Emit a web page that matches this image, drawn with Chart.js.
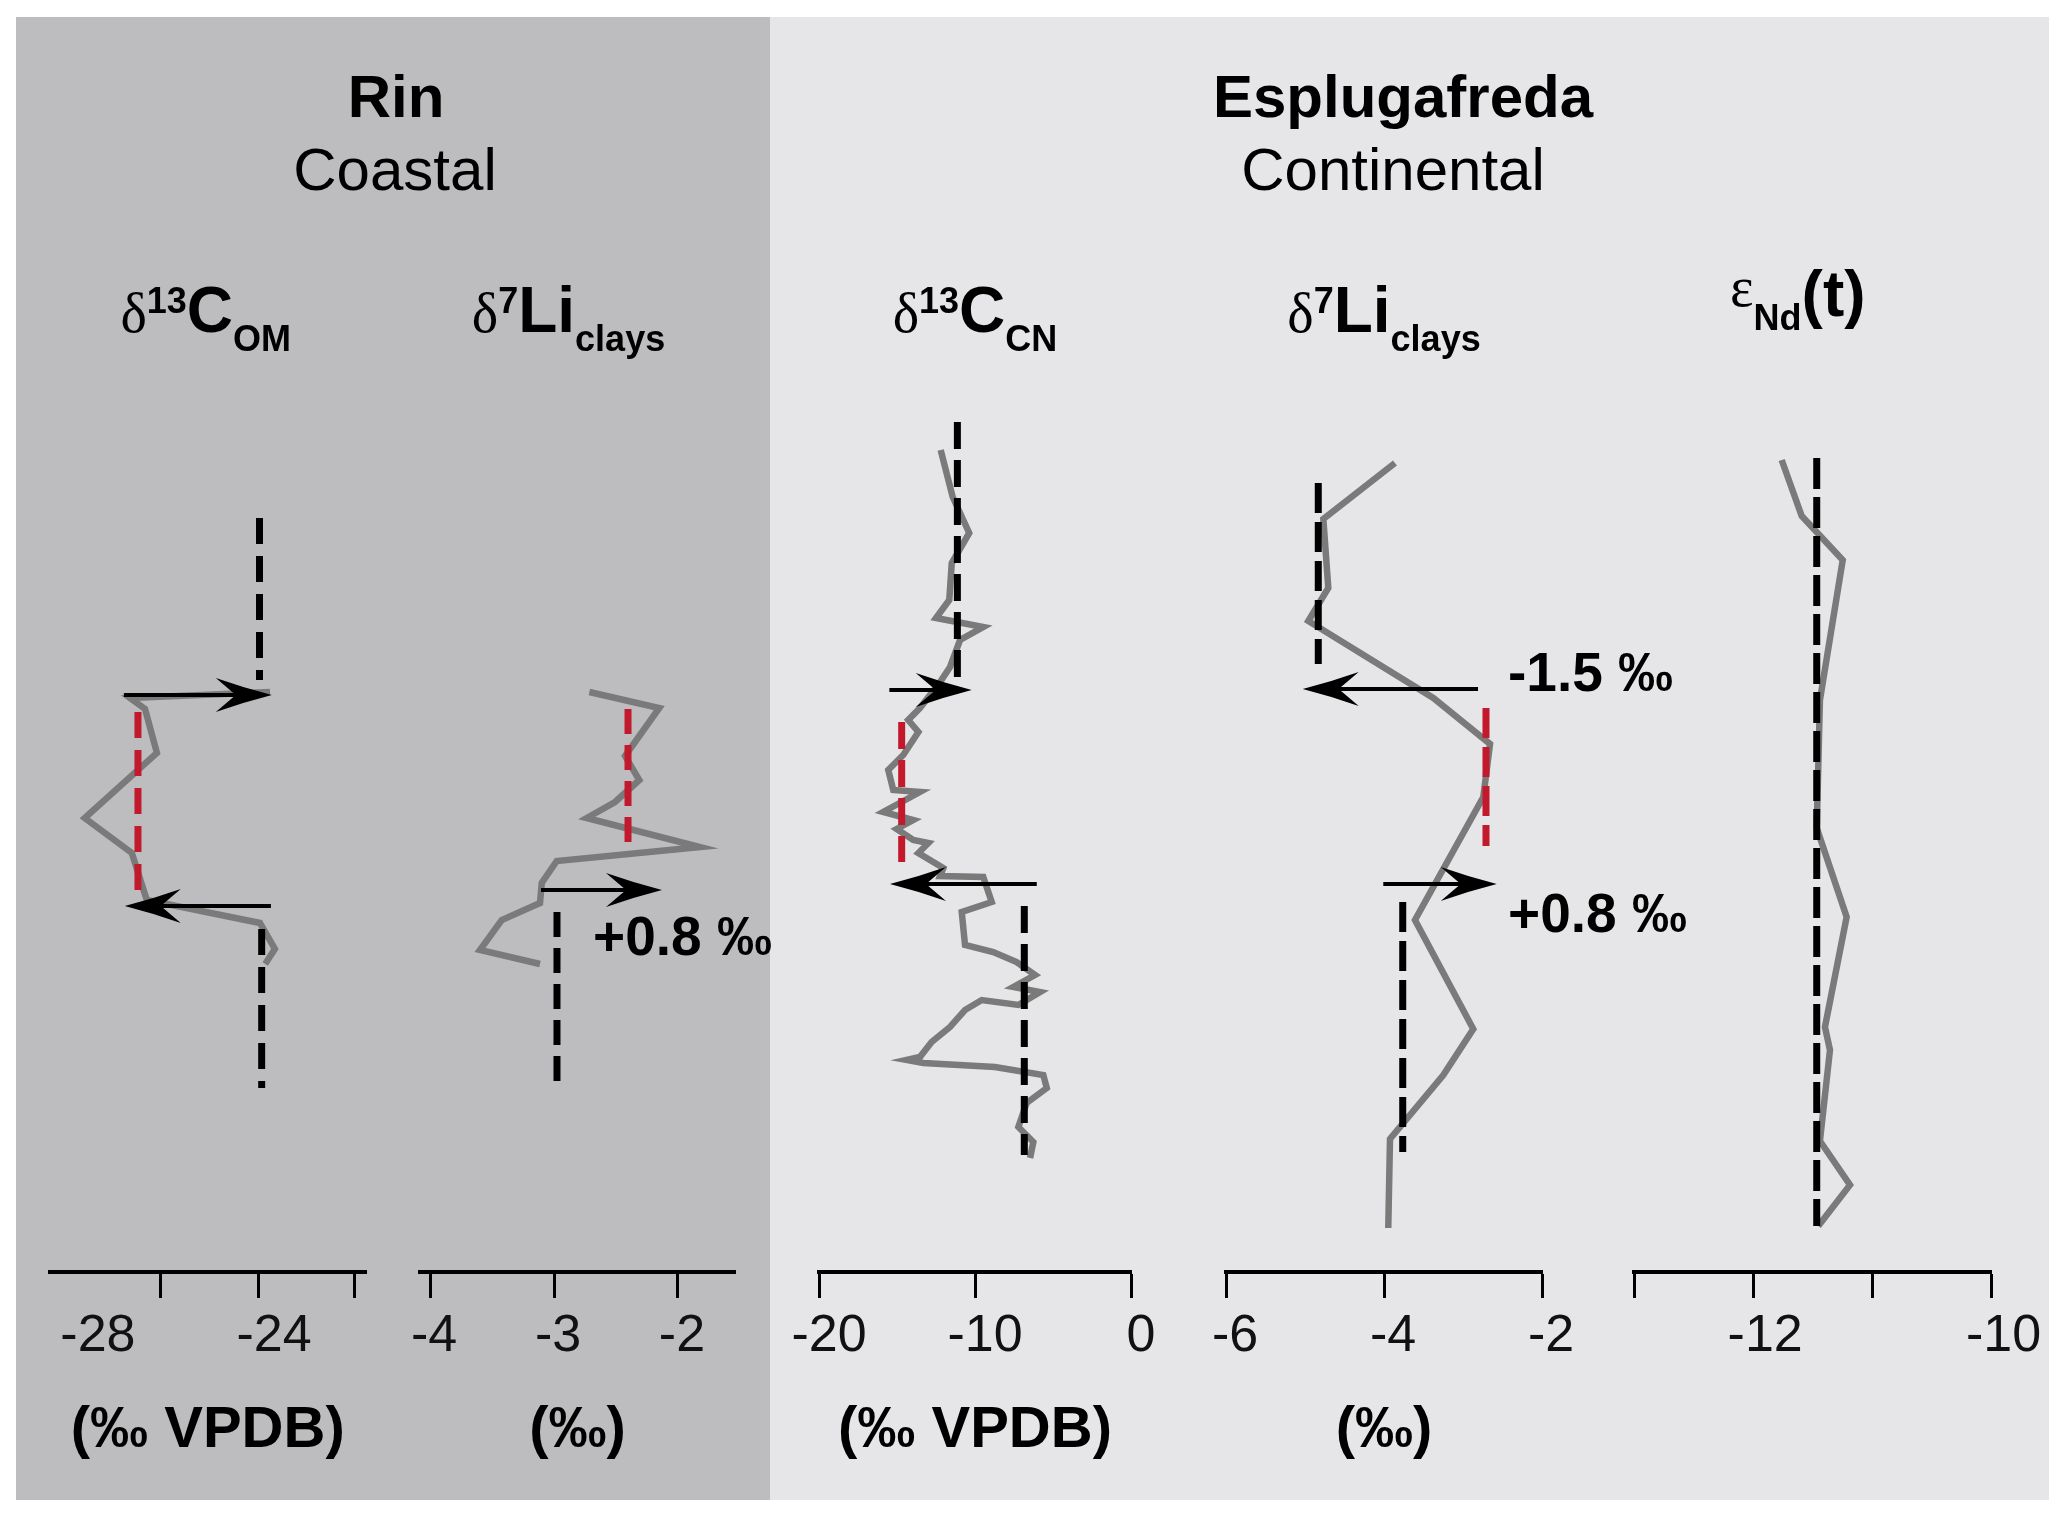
<!DOCTYPE html>
<html>
<head>
<meta charset="utf-8">
<script src="https://cdn.jsdelivr.net/npm/chart.js@4.4.1/dist/chart.umd.min.js"></script>
<style>
  html, body { margin: 0; padding: 0; background: #fff; }
  #fig { position: relative; width: 2067px; height: 1519px; overflow: hidden; }
  .bg { position: absolute; }
  canvas { position: absolute; left: 0; top: 0; }
</style>
</head>
<body>
<div id="fig">
  <div class="bg" style="left:16px;top:17px;width:754px;height:1483px;background:#bdbdbf"></div>
  <div class="bg" style="left:770px;top:17px;width:1279px;height:1483px;background:#e6e6e8"></div>
  <canvas id="c0" width="2067" height="1519"></canvas>
  <canvas id="c1" width="2067" height="1519"></canvas>
  <canvas id="c2" width="2067" height="1519"></canvas>
  <canvas id="c3" width="2067" height="1519"></canvas>
  <canvas id="c4" width="2067" height="1519"></canvas>
</div>
<script>
// y values = stratigraphic height (arbitrary units, 0 at the axis line)

// Rin, d13C organic matter (‰ VPDB)
const rinCarbon = [[-24.09,58.0],[-27.27,57.4],[-26.93,56.3],[-26.66,51.9],[-28.30,45.4],
  [-27.23,41.9],[-26.89,37.2],[-24.32,34.9],[-23.98,32.3],[-24.20,30.8]];
const rinCarbonMeans = [{x:-24.33, top:75.4, bottom:59.2}, {x:-24.28, top:34.3, bottom:18.4}];
const rinCarbonCie = [{x:-27.09, top:56.0, bottom:38.2}];
const rinCarbonShifts = [{y:57.7, from:-27.41, to:-24.05}, {y:36.6, from:-24.07, to:-27.39}];
const rinCarbonNotes = [];
const rinCarbonTicks = [-26.57, -24.36, -22.16];
const rinCarbonLabels = [-28, -24];

// Rin, d7Li clays (‰)
const rinLithium = [[-2.715,58.0],[-2.151,56.4],[-2.427,51.6],[-2.312,49.2],[-2.508,47.0],
  [-2.736,45.4],[-1.823,42.5],[-2.978,41.1],[-3.099,38.9],[-3.113,36.9],[-3.422,35.2],
  [-3.597,32.2],[-3.113,30.8]];
const rinLithiumMeans = [{x:-2.976, top:36.0, bottom:18.5}];
const rinLithiumCie = [{x:-2.403, top:56.3, bottom:42.1}];
const rinLithiumShifts = [{y:38.2, from:-3.105, to:-2.129}];
const rinLithiumNotes = [{x:-2.685, y:31.7, text:'+0.8 ‰'}];
const rinLithiumTicks = [-4, -3, -2];
const rinLithiumLabels = [-4, -3, -2];

// Esplugafreda, d13C carbonate nodules (‰ VPDB)
const espCarbon = [[-12.20,82.2],[-11.43,77.5],[-10.37,73.9],[-11.49,70.9],[-11.65,67.2],
  [-12.50,65.4],[-9.47,64.5],[-10.96,63.2],[-11.60,60.5],[-12.24,59.0],[-13.53,56.4],
  [-14.28,55.2],[-13.63,54.0],[-14.60,51.7],[-15.56,50.2],[-15.24,48.2],[-13.53,48.0],
  [-15.88,46.0],[-13.96,45.2],[-15.02,44.3],[-13.96,43.2],[-12.99,42.9],[-13.63,41.9],
  [-12.03,40.4],[-12.24,39.6],[-9.47,39.5],[-8.93,37.0],[-10.85,36.0],[-10.64,32.7],
  [-8.83,32.0],[-7.33,31.0],[-6.15,29.7],[-7.54,28.5],[-5.83,28.0],[-7.22,26.7],
  [-9.57,27.2],[-10.64,26.2],[-11.60,24.5],[-12.78,23.0],[-13.53,21.5],[-14.38,21.2],
  [-13.31,20.9],[-8.72,20.5],[-5.62,19.7],[-5.40,18.4],[-6.69,16.9],[-7.22,14.5],
  [-6.26,13.0],[-6.47,11.4]];
const espCarbonMeans = [{x:-11.13, top:85.0, bottom:59.4}, {x:-6.84, top:36.6, bottom:11.7}];
const espCarbonCie = [{x:-14.70, top:55.0, bottom:41.0}];
const espCarbonShifts = [{y:58.2, from:-15.49, to:-10.21}, {y:38.8, from:-6.04, to:-15.45}];
const espCarbonNotes = [];
const espCarbonTicks = [-20, -10, 0];
const espCarbonLabels = [-20, -10, 0];

// Esplugafreda, d7Li clays (‰)
const espLithium = [[-3.861,80.9],[-4.768,75.3],[-4.705,68.4],[-4.958,65.1],[-3.376,57.4],
  [-2.658,52.8],[-2.743,47.5],[-3.608,35.2],[-2.870,24.3],[-3.249,19.7],[-3.924,13.3],
  [-3.946,4.4]];
const espLithiumMeans = [{x:-4.832, top:78.9, bottom:60.8}, {x:-3.763, top:37.0, bottom:12.0}];
const espLithiumCie = [{x:-2.709, top:56.4, bottom:42.6}];
const espLithiumShifts = [{y:58.3, from:-2.810, to:-5.029}, {y:38.8, from:-4.009, to:-2.573}];
const espLithiumNotes = [{x:-2.43, y:58.1, text:'-1.5 ‰'}, {x:-2.43, y:34.0, text:'+0.8 ‰'}];
const espLithiumTicks = [-6, -4, -2];
const espLithiumLabels = [-6, -4, -2];

// Esplugafreda, eNd(t)
const espNd = [[-11.761,81.2],[-11.593,75.6],[-11.249,71.2],[-11.440,57.2],[-11.467,44.4],
  [-11.216,35.5],[-11.398,24.5],[-11.356,22.2],[-11.440,13.1],[-11.188,8.7],[-11.454,4.6]];
const espNdMeans = [{x:-11.467, top:81.4, bottom:4.6}];
const espNdTicks = [-13, -12, -11, -10];
const espNdLabels = [-12, -10];

// ---- layout and style ----
const W = 2067, H = 1519;
const AXIS_Y = 1272, PLOT_TOP = 400;
const Y_MAX = (AXIS_Y - PLOT_TOP) / 10;
const SANS = '"Liberation Sans", Arial, Helvetica, sans-serif';
const SERIF = '"Liberation Serif", "Times New Roman", serif';
const GREY = '#7a7a7a', RED = '#c21a2c';

const sup = (t) => ({t, font: 'bold 36px ' + SANS, dy: -19});
const sub = (t) => ({t, font: 'bold 36px ' + SANS, dy: 19});
const big = (t) => ({t, font: 'bold 64px ' + SANS});
const greek = (t, dy) => ({t, font: '56px ' + SERIF, dy: dy || 0});

const panels = [
  {id:'c0', left:49.5, right:366, min:-29.10, max:-21.91, series:rinCarbon, means:rinCarbonMeans,
   cie:rinCarbonCie, shifts:rinCarbonShifts, notes:rinCarbonNotes, ticks:rinCarbonTicks,
   labels:rinCarbonLabels, labelShift:0, unit:'(‰ VPDB)', titleShift:-2, titleBase:332,
   title:[greek('δ'), sup('13'), big('C'), sub('OM')], dash:[26,12]},
  {id:'c1', left:420, right:735, min:-4.081, max:-1.54, series:rinLithium, means:rinLithiumMeans,
   cie:rinLithiumCie, shifts:rinLithiumShifts, notes:rinLithiumNotes, ticks:rinLithiumTicks,
   labels:rinLithiumLabels, labelShift:4, unit:'(‰)', titleShift:-9, titleBase:332,
   title:[greek('δ'), sup('7'), big('Li'), sub('clays')], dash:[25,11]},
  {id:'c2', left:819, right:1131, min:-20, max:0, series:espCarbon, means:espCarbonMeans,
   cie:espCarbonCie, shifts:espCarbonShifts, notes:espCarbonNotes, ticks:espCarbonTicks,
   labels:espCarbonLabels, labelShift:10, unit:'(‰ VPDB)', titleShift:0, titleBase:332,
   title:[greek('δ'), sup('13'), big('C'), sub('CN')], dash:[27,11]},
  {id:'c3', left:1226, right:1542, min:-6, max:-2, series:espLithium, means:espLithiumMeans,
   cie:espLithiumCie, shifts:espLithiumShifts, notes:espLithiumNotes, ticks:espLithiumTicks,
   labels:espLithiumLabels, labelShift:9, unit:'(‰)', titleShift:0, titleBase:332,
   title:[greek('δ'), sup('7'), big('Li'), sub('clays')], dash:[30,9]},
  {id:'c4', left:1634, right:1991.6, min:-13, max:-10, series:espNd, means:espNdMeans,
   cie:[], shifts:[], notes:[], ticks:espNdTicks, labels:espNdLabels, labelShift:12, unit:'',
   titleShift:-15, titleBase:316,
   title:[greek('ε', -10), {t:'Nd', font:'bold 36px ' + SANS, dy:14}, big('(t)')], dash:[31,8]}
];

const headers = [
  {t:'Rin', font:'bold 60px ' + SANS, x:396, y:117},
  {t:'Coastal', font:'60px ' + SANS, x:395, y:190},
  {t:'Esplugafreda', font:'bold 60px ' + SANS, x:1403, y:117},
  {t:'Continental', font:'60px ' + SANS, x:1393, y:190}
];

function richText(ctx, parts, cx, base) {
  let w = 0;
  parts.forEach(p => { ctx.font = p.font; w += ctx.measureText(p.t).width; });
  let x = cx - w / 2;
  parts.forEach(p => {
    ctx.font = p.font;
    ctx.fillText(p.t, x, base + (p.dy || 0));
    x += ctx.measureText(p.t).width;
  });
}

function arrow(ctx, x0, x1, y) {
  const dir = Math.sign(x1 - x0), L = 56, hw = 17, notch = 20;
  ctx.strokeStyle = '#000';
  ctx.fillStyle = '#000';
  ctx.lineWidth = 4;
  ctx.beginPath();
  ctx.moveTo(x0, y);
  ctx.lineTo(x1 - dir * 20, y);
  ctx.stroke();
  ctx.beginPath();
  ctx.moveTo(x1, y);
  ctx.quadraticCurveTo(x1 - dir * L * 0.5, y - hw * 0.42, x1 - dir * L, y - hw);
  ctx.lineTo(x1 - dir * (L - notch), y);
  ctx.lineTo(x1 - dir * L, y + hw);
  ctx.quadraticCurveTo(x1 - dir * L * 0.5, y + hw * 0.42, x1, y);
  ctx.closePath();
  ctx.fill();
}

const marksPlugin = {
  id: 'marks',
  afterDatasetsDraw(chart, args, opts) {
    const {ctx, scales: {x, y}} = chart;
    ctx.save();
    opts.shifts.forEach(s => arrow(ctx, x.getPixelForValue(s.from), x.getPixelForValue(s.to), y.getPixelForValue(s.y)));
    ctx.fillStyle = '#000';
    ctx.textAlign = 'left';
    ctx.textBaseline = 'alphabetic';
    ctx.font = 'bold 55px ' + SANS;
    opts.notes.forEach(n => ctx.fillText(n.text, x.getPixelForValue(n.x), y.getPixelForValue(n.y)));
    ctx.restore();
  },
  afterDraw(chart, args, opts) {
    const {ctx, chartArea} = chart;
    ctx.save();
    ctx.fillStyle = '#000';
    ctx.textAlign = 'left';
    ctx.textBaseline = 'alphabetic';
    richText(ctx, opts.title, (chartArea.left + chartArea.right) / 2 + opts.titleShift, opts.titleBase);
    (opts.headers || []).forEach(h => {
      ctx.font = h.font;
      ctx.textAlign = 'center';
      ctx.fillText(h.t, h.x, h.y);
    });
    ctx.restore();
  }
};

panels.forEach((p, i) => {
  const vertical = (m, color) => ({
    data: [{x: m.x, y: m.top}, {x: m.x, y: m.bottom}],
    borderColor: color, borderWidth: 7, borderDash: p.dash, borderCapStyle: 'butt', order: 1
  });
  const datasets = [
    {data: p.series.map(([x, y]) => ({x, y})), borderColor: GREY, borderWidth: 6.5,
     borderJoinStyle: 'miter', order: 2},
    ...p.means.map(m => vertical(m, '#000')),
    ...p.cie.map(m => vertical(m, RED))
  ];
  const allTicks = [...new Set([...p.ticks, ...p.labels])].sort((a, b) => a - b);
  new Chart(document.getElementById(p.id), {
    type: 'line',
    data: {datasets},
    options: {
      responsive: false,
      animation: false,
      devicePixelRatio: 1,
      events: [],
      layout: {padding: {left: p.left, right: W - p.right, top: PLOT_TOP, bottom: 0}},
      elements: {point: {radius: 0}, line: {tension: 0, fill: false}},
      plugins: {
        legend: {display: false},
        tooltip: {enabled: false},
        marks: {shifts: p.shifts, notes: p.notes, title: p.title, titleShift: p.titleShift,
                titleBase: p.titleBase, headers: i === 0 ? headers : []}
      },
      scales: {
        y: {type: 'linear', display: false, min: 0, max: Y_MAX},
        x: {
          type: 'linear', min: p.min, max: p.max,
          afterBuildTicks: s => { s.ticks = allTicks.map(v => ({value: v})); },
          afterFit: s => { s.height = H - AXIS_Y; },
          border: {display: true, color: '#000', width: 4},
          grid: {
            display: true, drawOnChartArea: false, drawTicks: true, tickLength: 26, tickWidth: 3,
            tickColor: c => p.ticks.includes(c.tick.value) ? '#000' : 'rgba(0,0,0,0)'
          },
          ticks: {
            autoSkip: false, maxRotation: 0, minRotation: 0, padding: 7, labelOffset: p.labelShift,
            color: '#111', font: {family: SANS, size: 52},
            callback: v => p.labels.includes(v) ? String(v) : ''
          },
          title: {display: p.unit !== '', text: p.unit, color: '#000',
                  font: {family: SANS, size: 58, weight: 'bold'}, padding: {top: 0, bottom: 53}}
        }
      }
    },
    plugins: [marksPlugin]
  });
});
</script>
</body>
</html>
